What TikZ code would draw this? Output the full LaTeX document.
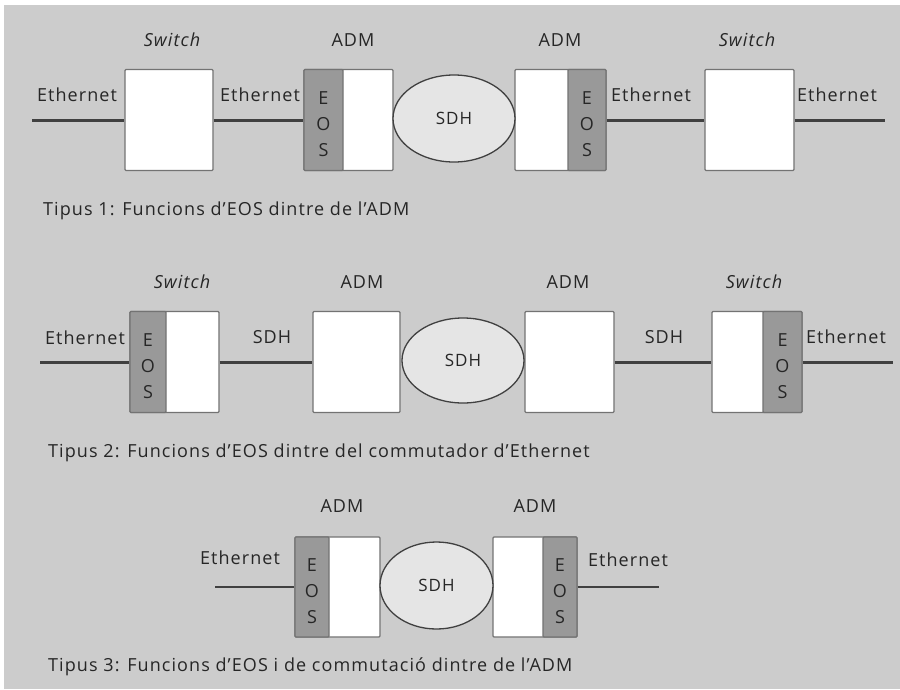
\documentclass[tikz,border=0pt]{standalone}
\usepackage{fontspec}
\setmainfont[LetterSpace=6]{Open Sans}
\usetikzlibrary{shapes.geometric}
\definecolor{bgc}{gray}{0.80}
\definecolor{eosc}{gray}{0.60}
\definecolor{cloudc}{gray}{0.90}
\definecolor{edgec}{gray}{0.45}
\definecolor{txtc}{gray}{0.15}
\definecolor{wirec}{gray}{0.25}
\tikzset{
 devbox/.style={draw=edgec, line width=1.2pt, fill=white, minimum height=101pt, inner sep=0pt, rounded corners=1pt},
 eosbox/.style={draw=edgec, line width=1.2pt, fill=eosc, minimum height=101pt, inner sep=0pt, rounded corners=1pt},
 eostext/.style={text=txtc, align=center, inner sep=0pt, font=\fontsize{18}{26}\selectfont},
 cloudnode/.style={ellipse, draw=wirec, line width=1.3pt, fill=cloudc, inner sep=0pt, text=txtc, font=\fontsize{17}{20}\selectfont},
 lbl/.style={text=txtc, font=\fontsize{18}{21}\selectfont, inner sep=0pt},
 ilbl/.style={text=txtc, font=\fontsize{18}{21}\selectfont\itshape, inner sep=0pt},
 captext/.style={text=txtc, font=\fontsize{18}{21}\selectfont, inner sep=0pt, anchor=west},
 wireline/.style={draw=wirec, line width=3pt},
}
\begin{document}
\begin{tikzpicture}[x=1pt,y=-1pt]
\useasboundingbox (0,0) rectangle (900,689);
\fill[white] (0,0) rectangle (900,689);
\fill[bgc] (4,5) rectangle (900,689);

% ---------- Row 1 ----------
\node[devbox, minimum width=88pt] (sw1) at (169,120) {};
\node[devbox, minimum width=89pt] (adm1) at (348.5,120) {};
\node[eosbox, minimum width=39pt, anchor=west] (eos1) at (adm1.west) {};
\node[eostext] (eos1t) at ([yshift=-4pt]eos1.center) {E\\O\\S};
\node[devbox, minimum width=91pt] (adm2) at (560.5,120) {};
\node[eosbox, minimum width=38pt, anchor=east] (eos2) at (adm2.east) {};
\node[eostext] (eos2t) at ([yshift=-4pt]eos2.center) {E\\O\\S};
\node[devbox, minimum width=89pt] (sw2) at (749.5,120) {};
\node[cloudnode, minimum width=122pt, minimum height=87pt] (sdh1) at (454,118.5) {SDH};
\coordinate (r1a) at (32,120);
\coordinate (r1b) at (885,120);
\draw[wireline] (r1a) -- (sw1.west);
\draw[wireline] (sw1.east) -- (adm1.west);
\draw[wireline] (adm2.east) -- (sw2.west);
\draw[wireline] (sw2.east) -- (r1b);
\node[ilbl] (t1a) at (172,40) {Switch};
\node[lbl] (t1b) at (353,40) {ADM};
\node[lbl] (t1c) at (560,40) {ADM};
\node[ilbl] (t1d) at (747,40) {Switch};
\node[lbl] (e1a) at (77,95) {Ethernet};
\node[lbl] (e1b) at (260,95) {Ethernet};
\node[lbl] (e1c) at (651,95) {Ethernet};
\node[lbl] (e1d) at (837,95) {Ethernet};
\node[captext] (c1) at (43,211) {Tipus 1: Funcions d’EOS dintre de l’ADM};

% ---------- Row 2 ----------
\node[devbox, minimum width=89pt] (sw3) at (174.5,362) {};
\node[eosbox, minimum width=36pt, anchor=west] (eos3) at (sw3.west) {};
\node[eostext] (eos3t) at ([yshift=-4pt]eos3.center) {E\\O\\S};
\node[devbox, minimum width=87pt] (adm3) at (356.5,362) {};
\node[devbox, minimum width=89pt] (adm4) at (569.5,362) {};
\node[devbox, minimum width=90pt] (sw4) at (757,362) {};
\node[eosbox, minimum width=39pt, anchor=east] (eos4) at (sw4.east) {};
\node[eostext] (eos4t) at ([yshift=-4pt]eos4.center) {E\\O\\S};
\node[cloudnode, minimum width=122pt, minimum height=85pt] (sdh2) at (463,360.5) {SDH};
\coordinate (r2a) at (40,362);
\coordinate (r2b) at (893,362);
\draw[wireline] (r2a) -- (sw3.west);
\draw[wireline] (sw3.east) -- (adm3.west);
\draw[wireline] (adm4.east) -- (sw4.west);
\draw[wireline] (sw4.east) -- (r2b);
\node[ilbl] (t2a) at (182,282) {Switch};
\node[lbl] (t2b) at (362,282) {ADM};
\node[lbl] (t2c) at (568,282) {ADM};
\node[ilbl] (t2d) at (754,282) {Switch};
\node[lbl] (e2a) at (85,338) {Ethernet};
\node[lbl] (s2a) at (272,337) {SDH};
\node[lbl] (s2b) at (664,337) {SDH};
\node[lbl] (e2b) at (846,337) {Ethernet};
\node[captext] (c2) at (48,453) {Tipus 2: Funcions d’EOS dintre del commutador d’Ethernet};

% ---------- Row 3 ----------
\node[devbox, minimum width=85pt, minimum height=100pt] (adm5) at (337.5,587) {};
\node[eosbox, minimum width=34pt, minimum height=100pt, anchor=west] (eos5) at (adm5.west) {};
\node[eostext] (eos5t) at ([yshift=-4pt]eos5.center) {E\\O\\S};
\node[devbox, minimum width=84pt, minimum height=100pt] (adm6) at (535,587) {};
\node[eosbox, minimum width=34pt, minimum height=100pt, anchor=east] (eos6) at (adm6.east) {};
\node[eostext] (eos6t) at ([yshift=-4pt]eos6.center) {E\\O\\S};
\node[cloudnode, minimum width=113pt, minimum height=87pt] (sdh3) at (436.5,585.5) {SDH};
\coordinate (r3a) at (215,587);
\coordinate (r3b) at (659,587);
\draw[wireline, line width=2.5pt] (r3a) -- (adm5.west);
\draw[wireline, line width=2.5pt] (adm6.east) -- (r3b);
\node[lbl] (t3a) at (342,506) {ADM};
\node[lbl] (t3b) at (535,506) {ADM};
\node[lbl] (e3a) at (240,558) {Ethernet};
\node[lbl] (e3b) at (628,560) {Ethernet};
\node[captext] (c3) at (48,667) {Tipus 3: Funcions d’EOS i de commutació dintre de l’ADM};
\end{tikzpicture}
\end{document}
